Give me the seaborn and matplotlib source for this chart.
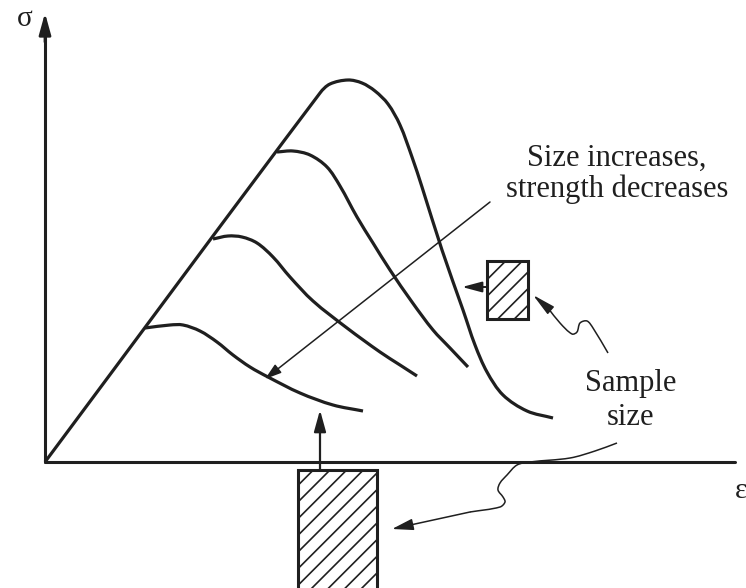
import numpy as np
import matplotlib
matplotlib.use("Agg")
import matplotlib.pyplot as plt
import seaborn as sns
from matplotlib.path import Path
from matplotlib.patches import PathPatch, Rectangle

# Stress-strain curves (arbitrary units: strain eps, stress sigma)
# Largest-strength curve includes the shared elastic line from the origin.
eps_1 = [100, 125, 138, 155, 172, 188, 205, 223, 255, 288, 318]
sig_1 = [134, 137, 137, 131, 120, 107, 95, 85, 69, 57, 51]

eps_2 = [168, 183, 197, 212, 228, 245, 268, 302, 335, 355, 372]
sig_2 = [223, 226, 225, 219, 205, 185, 161, 134, 110, 97, 86]

eps_3 = [232, 248, 265, 282, 295, 312, 328, 345, 367, 388, 405, 423]
sig_3 = [310, 311, 307, 295, 276, 245, 219, 192, 160, 132, 114, 95]

eps_4 = [0, 275, 285, 303, 317, 330, 343, 355, 367, 377, 397, 418, 430, 442, 458, 482, 508]
sig_4 = [0, 369, 378, 382, 379, 371, 358, 337, 305, 275, 212, 152, 117, 90, 67, 51, 44]

# Hand-drawn leader lines
lead_small_eps = [563, 548, 542, 535, 532, 527, 515, 503, 488]
lead_small_sig = [109, 134, 141, 139, 130, 128, 139, 154, 167]

lead_big_eps = [572, 550, 525, 485, 472, 462, 455, 453, 458, 460, 455, 425, 347]
lead_big_sig = [19, 11, 4, 0, -3, -13, -21, -28, -35, -40, -45, -50, -67]

trend_eps = [445, 220]
trend_sig = [260, 83]

INK = "#1f1f1f"

sns.set_theme(style="white")
plt.rcParams["font.family"] = ["Liberation Serif", "DejaVu Serif"]
plt.rcParams["hatch.linewidth"] = 1.2
plt.rcParams["hatch.color"] = INK

fig = plt.figure(figsize=(7.46, 5.88), dpi=100)
ax = fig.add_axes([0, 0, 1, 1])
ax.set_xlim(-45, 701)
ax.set_ylim(-126, 462)
ax.axis("off")


def smooth_path(xs, ys):
    """Cubic Bezier path through the points, tangents scaled by chord length."""
    pts = np.column_stack([xs, ys]).astype(float)
    n = len(pts)
    d = np.linalg.norm(np.diff(pts, axis=0), axis=1)
    tang = np.zeros_like(pts)
    for i in range(n):
        if i == 0:
            tang[i] = (pts[1] - pts[0]) / d[0]
        elif i == n - 1:
            tang[i] = (pts[-1] - pts[-2]) / d[-1]
        else:
            tang[i] = (pts[i + 1] - pts[i - 1]) / (d[i - 1] + d[i])
    verts = [pts[0]]
    codes = [Path.MOVETO]
    for i in range(n - 1):
        h = d[i] / 3.0
        verts += [pts[i] + tang[i] * h, pts[i + 1] - tang[i + 1] * h, pts[i + 1]]
        codes += [Path.CURVE4] * 3
    return Path(verts, codes)


def draw_curve(xs, ys, lw):
    ax.add_patch(PathPatch(smooth_path(xs, ys), fill=False, lw=lw,
                           edgecolor=INK, capstyle="butt", joinstyle="round"))


def arrow(tail, tip, hl, hw, lw):
    ax.annotate("", xy=tip, xytext=tail,
                arrowprops=dict(arrowstyle=f"-|>,head_length={hl},head_width={hw}",
                                mutation_scale=1, lw=lw, color=INK,
                                shrinkA=0, shrinkB=0))


# Axes with arrowheads
sns.lineplot(x=[0, 690], y=[0, 0], ax=ax, color=INK, lw=2.2,
             sort=False, estimator=None)
sns.lineplot(x=[0, 0], y=[0, 440], ax=ax, color=INK, lw=2.2,
             sort=False, estimator=None)
arrow((680, 0), (704, 0), 12, 4.2, 2.0)
arrow((0, 420), (0, 449), 13, 3.6, 2.0)
ax.text(-20, 436, "σ", fontsize=21, ha="center", va="baseline", color=INK)
ax.text(690, -36, "ε", fontsize=21, ha="left", va="baseline", color=INK)

# Stress-strain curves
for xs, ys in [(eps_1, sig_1), (eps_2, sig_2), (eps_3, sig_3), (eps_4, sig_4)]:
    draw_curve(xs, ys, 2.3)

# Trend arrow and caption
arrow((trend_eps[0], trend_sig[0]), (trend_eps[1], trend_sig[1]), 10, 3.2, 1.1)
ax.text(572, 296, "Size increases,", fontsize=22, ha="center", va="baseline", color=INK)
ax.text(572, 265, "strength decreases", fontsize=22, ha="center", va="baseline", color=INK)

# Specimens
ax.add_patch(Rectangle((442, 143), 41, 58, fill=False, hatch="//", lw=2.2, edgecolor=INK))
ax.add_patch(Rectangle((253, -130), 79, 122, fill=False, hatch="//", lw=2.2, edgecolor=INK))
arrow((442, 175), (417, 175), 12, 3.2, 1.4)
arrow((275, -8), (275, 52), 13, 3.6, 1.6)

# "Sample size" label with leader lines
ax.text(586, 71, "Sample", fontsize=22, ha="center", va="baseline", color=INK)
ax.text(586, 37, "size", fontsize=22, ha="center", va="baseline", color=INK)
draw_curve(lead_small_eps[:-1], lead_small_sig[:-1], 1.1)
arrow((lead_small_eps[-2], lead_small_sig[-2]), (lead_small_eps[-1], lead_small_sig[-1]), 14, 3.0, 1.1)
draw_curve(lead_big_eps[:-1], lead_big_sig[:-1], 1.1)
arrow((lead_big_eps[-2], lead_big_sig[-2]), (lead_big_eps[-1], lead_big_sig[-1]), 13, 3.5, 1.1)

fig.savefig("out.png", dpi=100, facecolor="white")
